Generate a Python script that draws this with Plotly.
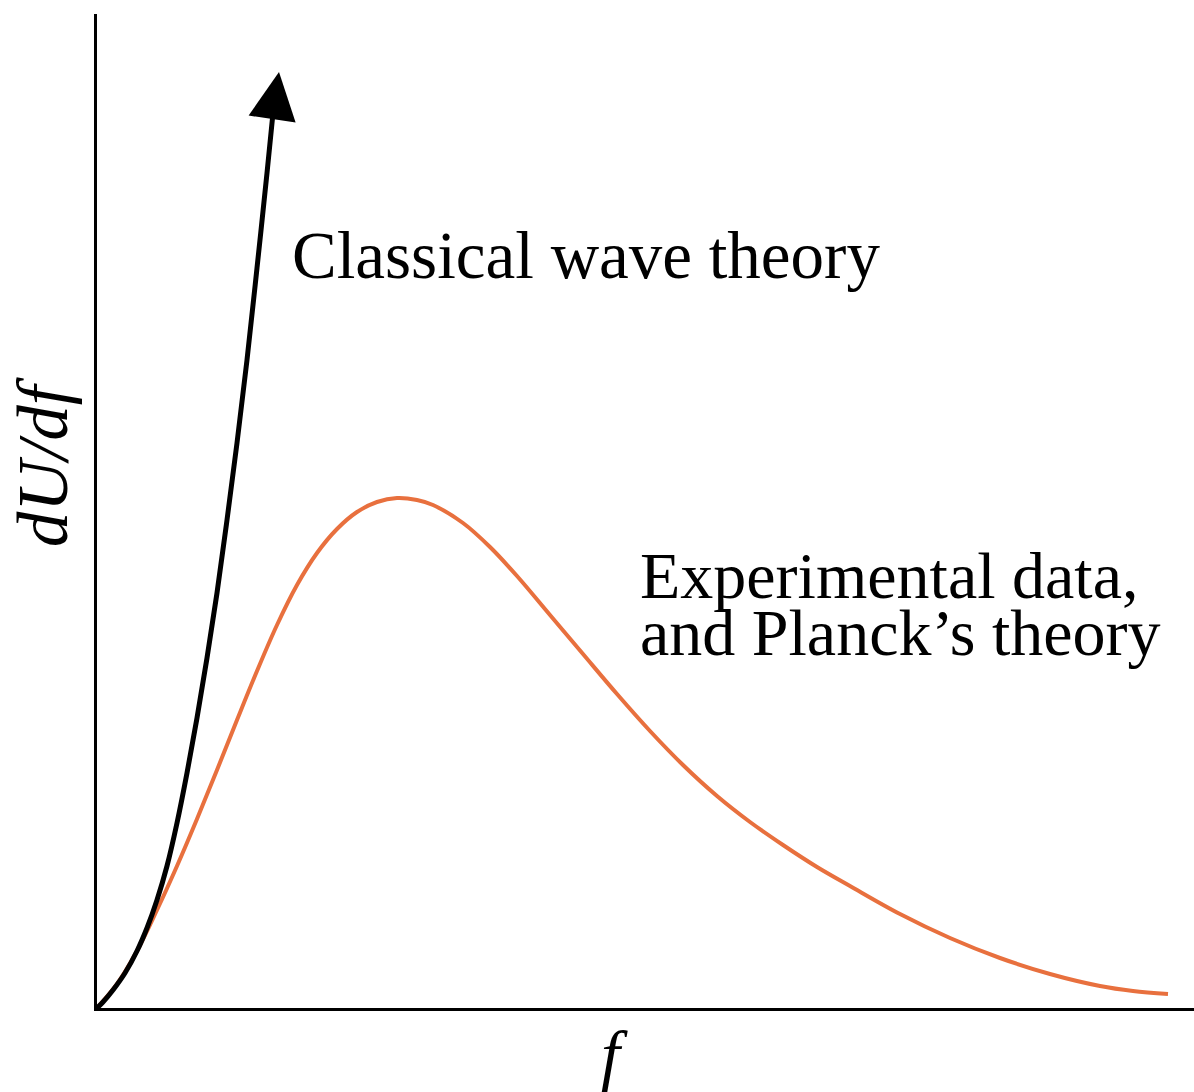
import plotly.graph_objects as go

# Frequency / dU/df readings (arbitrary units)
planck_f = [0, 0.20, 0.40, 0.60, 0.80, 1.00, 1.20, 1.40, 1.60, 1.80, 2.00, 2.20, 2.40,
            2.60, 2.80, 3.00, 3.20, 3.36, 3.66, 3.93, 4.20, 4.53, 4.86, 5.20, 5.53,
            5.86, 6.20, 6.53, 6.86, 7.20, 7.53, 8.03, 8.53, 9.03, 9.53, 10.03, 10.36, 10.71]
planck_u = [0, 0.24, 0.57, 0.98, 1.42, 1.89, 2.38, 2.88, 3.37, 3.83, 4.23, 4.55, 4.79,
            4.96, 5.06, 5.10, 5.08, 5.03, 4.85, 4.61, 4.32, 3.93, 3.54, 3.14, 2.77,
            2.43, 2.12, 1.86, 1.63, 1.41, 1.22, 0.94, 0.70, 0.50, 0.34, 0.22, 0.17, 0.14]

classical_f = [0, 0.06, 0.16, 0.28, 0.40, 0.50, 0.60, 0.70, 0.80, 0.90, 1.00, 1.10,
               1.20, 1.30, 1.40, 1.50, 1.60, 1.70, 1.76]
classical_u = [0, 0.06, 0.18, 0.35, 0.57, 0.80, 1.08, 1.42, 1.85, 2.35, 2.90, 3.50,
               4.15, 4.88, 5.65, 6.48, 7.40, 8.35, 8.95]
arrow_tip = (1.82, 9.36)

x_range = [0, 10.97]
y_range = [0, 9.94]

label_classical = "Classical wave theory"
label_exp_1 = "Experimental data,"
label_exp_2 = "and Planck\u2019s theory"
x_title = "f"
y_title = "dU/df"

ORANGE = "#E8703E"
SERIF = "Liberation Serif, Times New Roman, serif"

fig = go.Figure()
fig.add_trace(go.Scatter(x=planck_f, y=planck_u, mode="lines",
                         line=dict(color=ORANGE, width=4, shape="spline", smoothing=1),
                         hoverinfo="skip"))
fig.add_trace(go.Scatter(x=classical_f, y=classical_u, mode="lines",
                         line=dict(color="black", width=5, shape="spline", smoothing=1),
                         hoverinfo="skip"))

# arrow head at the end of the classical curve
fig.add_annotation(x=arrow_tip[0], y=arrow_tip[1], ax=classical_f[-1], ay=classical_u[-1],
                   xref="x", yref="y", axref="x", ayref="y", text="",
                   showarrow=True, arrowhead=2, arrowsize=1.9, arrowwidth=5,
                   arrowcolor="black")

fig.add_annotation(x=1.93, y=7.53, xref="x", yref="y", text=label_classical,
                   showarrow=False, xanchor="left", yanchor="middle",
                   font=dict(family=SERIF, size=67, color="black"))
fig.add_annotation(x=5.41, y=4.33, xref="x", yref="y", text=label_exp_1,
                   showarrow=False, xanchor="left", yanchor="middle",
                   font=dict(family=SERIF, size=66, color="black"))
fig.add_annotation(x=5.41, y=3.76, xref="x", yref="y", text=label_exp_2,
                   showarrow=False, xanchor="left", yanchor="middle",
                   font=dict(family=SERIF, size=66, color="black"))

fig.add_annotation(x=(614 - 97) / 1097, y=-0.047, xref="paper", yref="paper",
                   text=x_title, showarrow=False,
                   xanchor="center", yanchor="middle",
                   font=dict(family=SERIF, size=68, color="black", style="italic"))
fig.add_annotation(x=-0.049, y=(1008 - 462) / 994, xref="paper", yref="paper",
                   text=y_title, showarrow=False, textangle=-90,
                   xanchor="center", yanchor="middle",
                   font=dict(family=SERIF, size=71, color="black", style="italic"))

axis_common = dict(showgrid=False, zeroline=False, showticklabels=False, ticks="",
                   showline=True, linecolor="black", linewidth=2.5, fixedrange=True)
fig.update_xaxes(range=x_range, **axis_common)
fig.update_yaxes(range=y_range, **axis_common)

fig.update_layout(width=1194, height=1092, showlegend=False,
                  margin=dict(l=97, r=0, t=14, b=84),
                  plot_bgcolor="white", paper_bgcolor="white")

fig.write_html("out.html")
